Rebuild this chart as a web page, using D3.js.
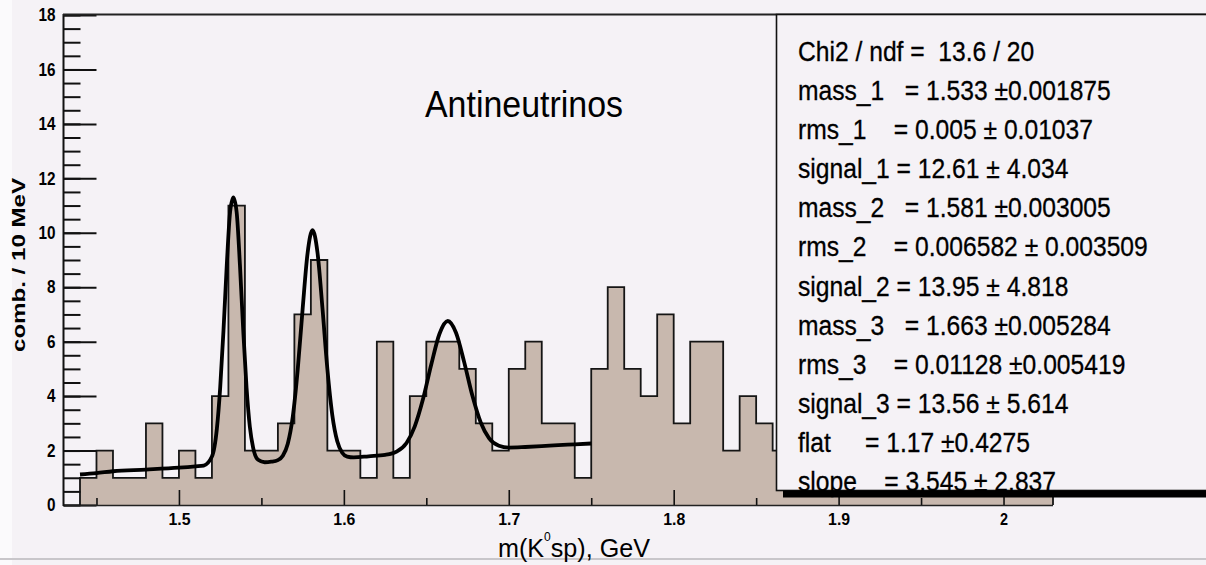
<!DOCTYPE html>
<html>
<head>
<meta charset="utf-8">
<script src="https://cdnjs.cloudflare.com/ajax/libs/d3/7.8.5/d3.min.js"></script>
<style>
  html, body { margin: 0; padding: 0; background: #f5f2f6; overflow: hidden; }
  text { font-family: "Liberation Sans", Arial, sans-serif; }
</style>
</head>
<body>
<div id="chart"></div>
<script>
// histogram: entries per 10 MeV bin, first bin starts at 1.44 GeV
var binStart = 1.44
var binWidth = 0.01
var counts = [1, 2, 1, 1, 3, 1, 2, 1, 4, 11, 2, 2, 3, 7, 9, 2, 2, 1, 6, 1,
              4, 6, 6, 5, 3, 2, 5, 6, 3, 3, 1, 5, 8, 5, 4, 7, 3, 6, 6, 2,
              4, 3, 2, 3, 2, 1, 3, 2, 1, 2, 2, 1, 1, 2, 1, 1, 1, 2, 1]

// fit curve
var fitMass  = [1.44, 1.45, 1.46, 1.48, 1.50, 1.51, 1.515, 1.52, 1.523, 1.525, 1.527, 1.529, 1.531, 1.533, 1.535,
                1.537, 1.539, 1.541, 1.543, 1.545, 1.548, 1.552, 1.556, 1.560, 1.563, 1.566, 1.569, 1.572, 1.575,
                1.578, 1.581, 1.584, 1.587, 1.590, 1.593, 1.596, 1.599, 1.602, 1.606, 1.615, 1.625, 1.632, 1.638,
                1.643, 1.648, 1.653, 1.658, 1.663, 1.668, 1.673, 1.678, 1.683, 1.688, 1.694, 1.700, 1.710, 1.720,
                1.730, 1.740, 1.750]
var fitValue = [1.12, 1.17, 1.24, 1.30, 1.37, 1.42, 1.45, 1.78, 2.8, 4.3, 6.4, 8.8, 10.75, 11.3, 10.75,
                8.8, 6.4, 4.3, 2.87, 2.1, 1.66, 1.57, 1.59, 1.65, 1.81, 2.25, 3.23, 4.96, 7.2,
                9.25, 10.1, 9.28, 7.25, 5.0, 3.3, 2.34, 1.92, 1.78, 1.75, 1.79, 1.84, 1.96, 2.28,
                2.89, 3.89, 5.16, 6.29, 6.76, 6.33, 5.24, 4.0, 3.03, 2.46, 2.18, 2.11, 2.13, 2.16,
                2.2, 2.23, 2.26]

var xTicks = [1.5, 1.6, 1.7, 1.8, 1.9, 2]
var xMinorTicks = [1.45, 1.55, 1.65, 1.75, 1.85, 1.95]
var yTicks = [0, 2, 4, 6, 8, 10, 12, 14, 16, 18]

var statLines = [
  "Chi2 / ndf =  13.6 / 20",
  "mass_1   = 1.533 \u00b10.001875",
  "rms_1    = 0.005 \u00b1 0.01037",
  "signal_1 = 12.61 \u00b1 4.034",
  "mass_2   = 1.581 \u00b10.003005",
  "rms_2    = 0.006582 \u00b1 0.003509",
  "signal_2 = 13.95 \u00b1 4.818",
  "mass_3   = 1.663 \u00b10.005284",
  "rms_3    = 0.01128 \u00b10.005419",
  "signal_3 = 13.56 \u00b1 5.614",
  "flat     = 1.17 \u00b10.4275",
  "slope    = 3.545 \u00b1 2.837"
]

var W = 1206, H = 565
var bg = "#f5f2f6"

var svg = d3.select("#chart").append("svg")
  .attr("width", W)
  .attr("height", H)

svg.append("rect").attr("width", W).attr("height", H).attr("fill", bg)
svg.append("rect").attr("width", 12).attr("height", H).attr("fill", "#fbfafc")
svg.append("line").attr("x1", 0).attr("x2", W).attr("y1", 559).attr("y2", 559)
  .attr("stroke", "#c8c6ca").attr("stroke-width", 2)

var x = d3.scaleLinear().domain([1.43, 2.03]).range([63.5, 1053])
var y = d3.scaleLinear().domain([0, 18]).range([505, 15])

// histogram as step area
var bins = counts.map((c, i) => ({ m: binStart + i * binWidth, c: c }))
var last = bins[bins.length - 1]
var steps = bins.concat([{ m: last.m + binWidth, c: last.c }])

var area = d3.area()
  .x(d => x(d.m))
  .y0(y(0))
  .y1(d => y(d.c))
  .curve(d3.curveStepAfter)

svg.append("path")
  .attr("d", area(steps))
  .attr("fill", "#c8b8ae")

var outline = [{ m: binStart, c: 0 }].concat(steps, [{ m: last.m + binWidth, c: 0 }])
svg.append("path")
  .attr("d", d3.line().x(d => x(d.m)).y(d => y(d.c)).curve(d3.curveStepAfter)(outline))
  .attr("fill", "none")
  .attr("stroke", "#151515")
  .attr("stroke-width", 1.8)

// fit
var fitPts = fitMass.map((m, i) => [m, fitValue[i]])
svg.append("path")
  .attr("d", d3.line().x(d => x(d[0])).y(d => y(d[1])).curve(d3.curveMonotoneX)(fitPts))
  .attr("fill", "none")
  .attr("stroke", "#000")
  .attr("stroke-width", 3.8)
  .attr("stroke-linejoin", "round")

// y axis: minor ticks every 0.5, major every 2, drawn inwards
var yMinor = d3.range(0, 18.01, 0.5)
svg.append("g")
  .attr("transform", "translate(63.5,0)")
  .call(d3.axisLeft(y).tickValues(yMinor).tickSize(-17).tickFormat(""))
  .call(g => g.select(".domain").remove())
  .call(g => g.selectAll("line").attr("stroke", "#111").attr("stroke-width", 2))

svg.append("g")
  .attr("transform", "translate(63.5,0)")
  .call(d3.axisLeft(y).tickValues(yTicks).tickSize(-33).tickPadding(8).tickFormat(d3.format("d")))
  .call(g => g.select(".domain").remove())
  .call(g => g.selectAll("line").attr("stroke", "#111").attr("stroke-width", 2))
  .call(g => g.selectAll("text")
    .attr("fill", "#000")
    .attr("font-size", 18)
    .attr("font-weight", "bold")
    .attr("textLength", d => String(d).length * 8.5)
    .attr("lengthAdjust", "spacingAndGlyphs"))

// x axis
svg.append("g")
  .attr("transform", "translate(0,505)")
  .call(d3.axisBottom(x).tickValues(xMinorTicks).tickSize(-7).tickFormat(""))
  .call(g => g.select(".domain").remove())
  .call(g => g.selectAll("line").attr("stroke", "#111").attr("stroke-width", 1.6))

svg.append("g")
  .attr("transform", "translate(0,505)")
  .call(d3.axisBottom(x).tickValues(xTicks).tickSize(-15).tickPadding(9).tickFormat(d3.format("~g")))
  .call(g => g.select(".domain").remove())
  .call(g => g.selectAll("line").attr("stroke", "#111").attr("stroke-width", 1.6))
  .call(g => g.selectAll("text")
    .attr("fill", "#000")
    .attr("font-size", 16)
    .attr("font-weight", "bold")
    .attr("textLength", d => String(d).length === 1 ? 8 : 22)
    .attr("lengthAdjust", "spacingAndGlyphs"))

// frame lines
svg.append("line").attr("x1", 63.5).attr("x2", 1053).attr("y1", 505.5).attr("y2", 505.5)
  .attr("stroke", "#222").attr("stroke-width", 1.6)
svg.append("line").attr("x1", 63.5).attr("x2", 63.5).attr("y1", 14).attr("y2", 506)
  .attr("stroke", "#111").attr("stroke-width", 2)
svg.append("line").attr("x1", 63).attr("x2", W).attr("y1", 14.5).attr("y2", 14.5)
  .attr("stroke", "#222").attr("stroke-width", 2)

// titles
svg.append("text")
  .attr("x", 425).attr("y", 117)
  .attr("font-size", 36)
  .attr("textLength", 198)
  .attr("lengthAdjust", "spacingAndGlyphs")
  .text("Antineutrinos")

var xt = svg.append("text")
  .attr("x", 498).attr("y", 557)
  .attr("font-size", 25)
  .attr("textLength", 152)
  .attr("lengthAdjust", "spacingAndGlyphs")
xt.append("tspan").text("m(K")
xt.append("tspan").attr("font-size", 12).attr("dy", -16).text("0")
xt.append("tspan").attr("dy", 16).text("sp), GeV")

svg.append("text")
  .attr("transform", "translate(25,265) rotate(-90)")
  .attr("text-anchor", "middle")
  .attr("font-size", 19)
  .attr("font-weight", "bold")
  .attr("textLength", 174)
  .attr("lengthAdjust", "spacingAndGlyphs")
  .text("comb. / 10 MeV")

// stats box
svg.append("rect")
  .attr("x", 776.5).attr("y", 14.5)
  .attr("width", 600).attr("height", 476)
  .attr("fill", bg)
  .attr("stroke", "#111").attr("stroke-width", 1.6)

var st = svg.append("g")
var lines = st.selectAll("text")
  .data(statLines)
  .enter()
  .append("text")
  .attr("x", 0)
  .attr("y", (d, i) => 61 + i * 39.1)
  .attr("font-size", 28)
  .attr("fill", "#000")
  .attr("stroke", "#000")
  .attr("stroke-width", 0.3)
  .style("white-space", "pre")
  .text(d => d)

var widest = d3.max(lines.nodes(), n => n.getComputedTextLength())
st.attr("transform", `translate(798,0) scale(${350 / widest},1)`)

svg.append("rect")
  .attr("x", 783).attr("y", 490.5)
  .attr("width", 600).attr("height", 7)
  .attr("fill", "#000")
</script>
</body>
</html>
